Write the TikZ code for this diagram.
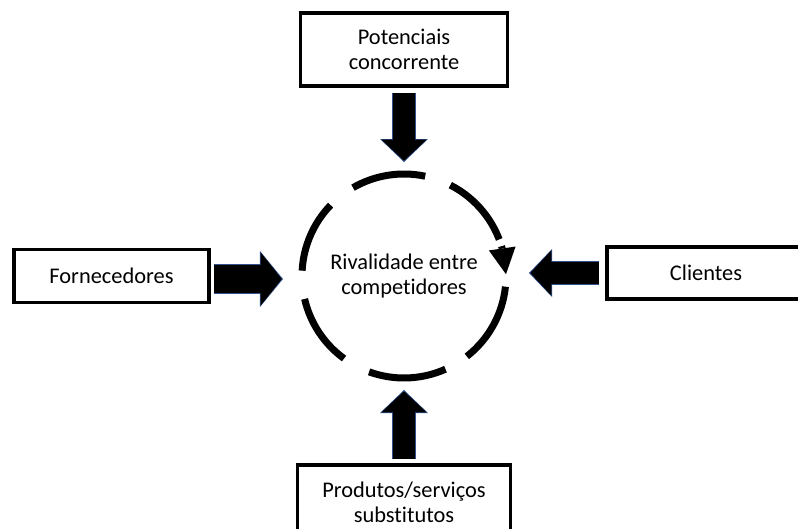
\documentclass[tikz,border=0pt]{standalone}
\usepackage{fontspec}
\setmainfont{Carlito}[Ligatures=NoCommon]
\usepackage{tikz}
\usetikzlibrary{arrows.meta,positioning,calc,bending}
\definecolor{arrowline}{RGB}{47,82,143}

\begin{document}
\begin{tikzpicture}[font=\fontsize{22.4}{25}\selectfont,
  box/.style={draw, line width=3.5pt, outer sep=0pt, align=center},
  ring/.style={line width=7pt},
  forcearrow/.style n args={4}{draw=black, line width=#1,
    -{Triangle[length=21pt, width=#3, line width=0pt]}, shorten >=1.3pt,
    preaction={draw=arrowline, line width=#2,
      -{Triangle[length=23pt, width=#4, line width=0pt]}, shorten >=0pt}}]
% page size
\useasboundingbox (-404pt,276pt) rectangle (394pt,-252pt);

\node[circle, minimum size=211pt, outer sep=0pt, align=center] (rival) at (0,0) {Rivalidade entre\\competidores};
\node[box, above=84.5pt of rival, minimum width=207pt, minimum height=73pt] (potential) {Potenciais\\concorrente};
\node[box, left=89.5pt of rival, minimum width=195pt, minimum height=53pt] (suppliers) {Fornecedores};
\node[box, right=97.5pt of rival, yshift=3pt, minimum width=198pt, minimum height=52pt] (clients) {Clientes};
\node[box, below=83.5pt of rival, minimum width=213pt, minimum height=74pt] (substitutes) {Produtos/serviços\\substitutos};

% dashed ring
\foreach \from/\to in {177/136, 120/78, 63/21, -6/-52, -66/-110, -126/-167}
  \draw[ring] ([shift={(\from:102pt)}]rival.center) arc[start angle=\from, end angle=\to, radius=102pt];
\draw[ring, -{Triangle[length=26pt, width=27pt, line width=0pt]}] ([shift={(17:102pt)}]rival.center) arc[start angle=17, end angle=1, radius=102pt];

% forces
\draw[forcearrow={22pt}{24pt}{45pt}{48pt}] ([yshift=-7pt]potential.south) -- ([yshift=8.5pt]rival.north);
\draw[forcearrow={22pt}{24pt}{45pt}{48pt}] ([yshift=6pt]substitutes.north) -- ([yshift=-8.5pt]rival.south);
\draw[forcearrow={28pt}{30pt}{53pt}{56pt}] ([shift={(5pt,-3pt)}]suppliers.east) -- ([shift={(-15.5pt,-3pt)}]rival.west);
\draw[forcearrow={22pt}{24pt}{45pt}{48pt}] ([xshift=-8pt]clients.west) -- ($(clients.west -| rival.east)+(19.5pt,0)$);
\end{tikzpicture}
\end{document}
